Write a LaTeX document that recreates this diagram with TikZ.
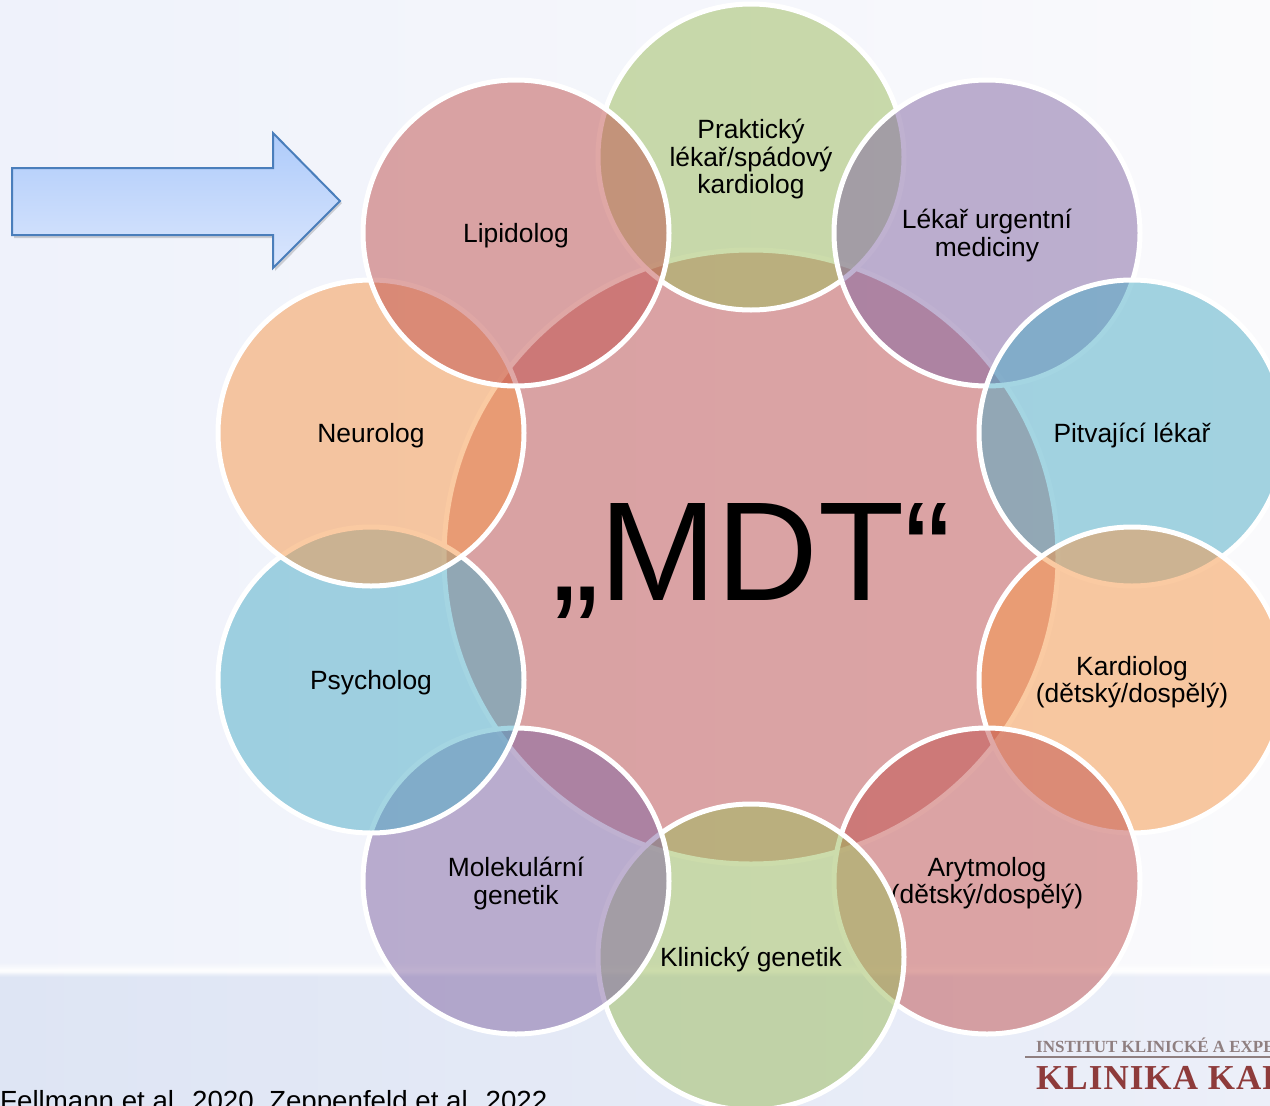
\documentclass[tikz,border=0pt]{standalone}
\usepackage{fontspec}
\setmainfont{Liberation Sans}
\newfontfamily\logofont{Liberation Serif}
\newfontfamily\logowide[LetterSpace=3]{Liberation Serif}
\definecolor{accred}{HTML}{C0504D}
\definecolor{accpurple}{HTML}{8064A2}
\definecolor{accaqua}{HTML}{4BACC6}
\definecolor{accorange}{HTML}{F79646}
\definecolor{accgreen}{HTML}{9BBB59}
\definecolor{arrowline}{HTML}{4A7EBB}
\definecolor{arrowtop}{HTML}{AECBFA}
\definecolor{arrowbot}{HTML}{DAE6FD}
\definecolor{logogrey}{HTML}{8F7F80}
\definecolor{logored}{HTML}{8E3B3B}
\definecolor{bgtl}{HTML}{EFF2FB}
\definecolor{bgtr}{HTML}{FAFAFC}
\definecolor{bgbl}{HTML}{DEE5F4}
\definecolor{bgbr}{HTML}{ECEFF9}
\tikzset{
  disc/.style={circle,draw=white,line width=5pt,fill=#1,fill opacity=.5,draw opacity=1,
    minimum size=306pt,inner sep=0pt,outer sep=0pt},
  disclabel/.style={inner sep=0pt,outer sep=0pt,align=center,text=black,yshift=-2.4pt,
    font=\fontsize{26.4}{27.5}\selectfont},
  hub/.style={circle,draw=white,line width=5pt,fill=accred,fill opacity=.5,draw opacity=1,
    minimum size=614pt,inner sep=0pt,outer sep=0pt},
  bigtext/.style={anchor=base,inner sep=0pt,text=black,font=\fontsize{141}{141}\selectfont},
  foot/.style={anchor=base west,inner sep=0pt,text=black,font=\fontsize{27.7}{30}\selectfont},
  logoa/.style={anchor=base west,inner sep=0pt,text=logogrey,font=\logofont\bfseries\fontsize{17}{17}\selectfont},
  logob/.style={anchor=base west,inner sep=0pt,text=logored,font=\logowide\bfseries\fontsize{35}{35}\selectfont},
}
\begin{document}
\begin{tikzpicture}[x=1pt,y=-1pt]
\useasboundingbox (0,0) rectangle (1270,1106);
\clip (0,0) rectangle (1270,1106);
% background
\shade[left color=bgtl,right color=bgtr] (0,0) rectangle (1270,971);
\shade[left color=bgbl,right color=bgbr] (0,971) rectangle (1270,1106);
\foreach \yy/\oo in {963/.12,964/.22,965/.32,966/.42,967/.55,968/.68,969/.8,970/.9,971/.9,972/.8,973/.6,974/.4,975/.25,976/.12}
  \fill[white,opacity=\oo] (0,\yy) rectangle (1270,\yy+1);
% arrow
\fill[black,opacity=.16] (14,171) -- (275,171) -- (275,136) -- (342,203) -- (275,271) -- (275,238) -- (14,238) -- cycle;
\draw[arrowline,line width=2pt,line join=miter,top color=arrowtop,bottom color=arrowbot]
  (12,168) -- (273,168) -- (273,133) -- (340,201) -- (273,268) -- (273,235) -- (12,235) -- cycle;
% hub
\node[hub] (hub) at (751,557) {};
% ring, in stacking order
\node[disc=accgreen] (praktik) at (751,157) {};
\node[disclabel] (praktikt) at (praktik) {Praktický\\lékař/spádový\\kardiolog};
\node[disc=accpurple] (urgent) at (987,233) {};
\node[disclabel] (urgentt) at (urgent) {Lékař urgentní\\mediciny};
\node[disc=accaqua] (pitva) at (1132,433) {};
\node[disclabel] (pitvat) at (pitva) {Pitvající lékař};
\node[disc=accorange] (kardio) at (1132,680) {};
\node[disclabel] (kardiot) at (kardio) {Kardiolog\\(dětský/dospělý)};
\node[disc=accred] (arytmo) at (987,881) {};
\node[disclabel] (arytmot) at (arytmo) {Arytmolog\\(dětský/dospělý)};
\node[disc=accgreen] (klingen) at (751,957) {};
\node[disclabel] (klingent) at (klingen) {Klinický genetik};
\node[disc=accpurple] (molgen) at (516,881) {};
\node[disclabel] (molgent) at (molgen) {Molekulární\\genetik};
\node[disc=accaqua] (psych) at (371,680) {};
\node[disclabel] (psycht) at (psych) {Psycholog};
\node[disc=accorange] (neuro) at (371,433) {};
\node[disclabel] (neurot) at (neuro) {Neurolog};
\node[disc=accred] (lipid) at (516,233) {};
\node[disclabel] (lipidt) at (lipid) {Lipidolog};
% central label
\node[bigtext] (mdt) at (752,600.7) {„MDT“};
% citation
\node[foot] (cite) at (0,1110) {Fellmann et al. 2020, Zeppenfeld et al. 2022};
% logo
\node[logoa] (logotop) at (1036,1052) {INSTITUT KLINICKÉ A EXPERIMENTÁLNÍ};
\draw[logogrey,line width=1.2pt] (1025,1057) -- (1270,1057);
\node[logob] (logomain) at (1036,1089) {KLINIKA KARDIOLOGIE};
\end{tikzpicture}
\end{document}
